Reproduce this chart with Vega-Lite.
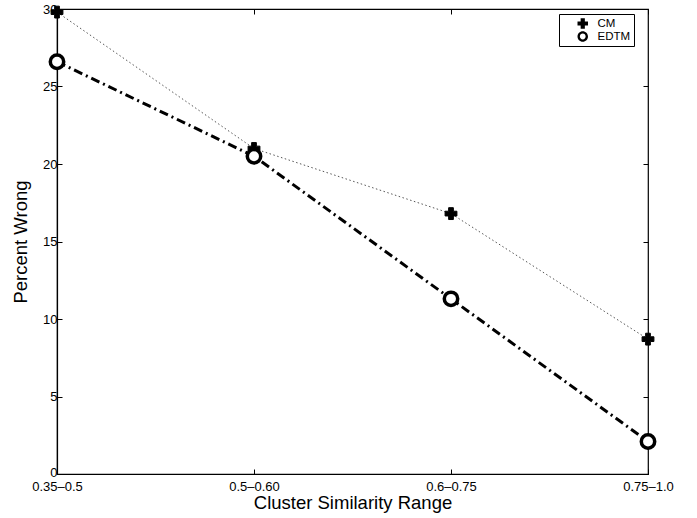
{
  "$schema": "https://vega.github.io/schema/vega-lite/v6.json",
  "width": 591,
  "height": 465,
  "autosize": "none",
  "padding": {"left": 57, "top": 9, "right": 49, "bottom": 44},
  "background": "white",
  "config": {
    "font": "Liberation Sans",
    "view": {"stroke": "black", "strokeWidth": 1.2},
    "axis": {
      "grid": false,
      "domainColor": "black",
      "domainWidth": 1.2,
      "tickColor": "black",
      "tickSize": -5,
      "labelColor": "black",
      "titleColor": "black",
      "labelFont": "Liberation Sans",
      "titleFont": "Liberation Sans",
      "labelFontSize": 13,
      "titleFontSize": 18.5,
      "titleFontWeight": "normal"
    },
    "legend": {
      "labelFont": "Liberation Sans",
      "labelFontSize": 11.5,
      "labelColor": "black"
    }
  },
  "data": {
    "values": [
      {"range": "0.35–0.5", "series": "CM", "pct": 29.8},
      {"range": "0.5–0.60", "series": "CM", "pct": 21.0},
      {"range": "0.6–0.75", "series": "CM", "pct": 16.8},
      {"range": "0.75–1.0", "series": "CM", "pct": 8.7},
      {"range": "0.35–0.5", "series": "EDTM", "pct": 26.6},
      {"range": "0.5–0.60", "series": "EDTM", "pct": 20.5},
      {"range": "0.6–0.75", "series": "EDTM", "pct": 11.3},
      {"range": "0.75–1.0", "series": "EDTM", "pct": 2.1}
    ]
  },
  "resolve": {"axis": {"x": "independent", "y": "independent"}},
  "layer": [
    {
      "transform": [{"filter": "datum.series === 'CM'"}],
      "mark": {"type": "line", "color": "#555", "strokeWidth": 1, "strokeDash": [1.5, 2.5], "clip": false},
      "encoding": {
        "x": {"field": "range", "type": "ordinal", "sort": ["0.35–0.5", "0.5–0.60", "0.6–0.75", "0.75–1.0"],
              "scale": {"type": "point", "padding": 0},
              "axis": {"title": "Cluster Similarity Range", "labelAngle": 0, "labelPadding": 11, "titlePadding": 0, "domain": true}},
        "y": {"field": "pct", "type": "quantitative", "scale": {"domain": [0, 30], "nice": false},
              "axis": {"title": "Percent Wrong", "values": [0, 5, 10, 15, 20, 25, 30], "labelPadding": 5, "titlePadding": 12,
                       "labelOffset": {"condition": {"test": "datum.value === 0", "value": -2}, "value": 0}}}
      }
    },
    {
      "transform": [{"filter": "datum.series === 'EDTM'"}],
      "mark": {"type": "line", "color": "black", "strokeWidth": 3, "strokeDash": [9, 4, 2, 4], "clip": false},
      "encoding": {
        "x": {"field": "range", "type": "ordinal", "sort": ["0.35–0.5", "0.5–0.60", "0.6–0.75", "0.75–1.0"],
              "scale": {"type": "point", "padding": 0}, "axis": null},
        "y": {"field": "pct", "type": "quantitative", "axis": null}
      }
    },
    {
      "mark": {"type": "point", "filled": true, "color": "black", "opacity": 0, "strokeWidth": 0, "size": 110, "clip": false},
      "encoding": {
        "x": {"field": "range", "type": "ordinal", "sort": ["0.35–0.5", "0.5–0.60", "0.6–0.75", "0.75–1.0"],
              "scale": {"type": "point", "padding": 0}, "axis": null},
        "y": {"field": "pct", "type": "quantitative", "axis": null},
        "shape": {"field": "series", "type": "nominal",
                  "scale": {"domain": ["CM", "EDTM"], "range": ["cross", "M-1,0A1,1,0,1,1,1,0A1,1,0,1,1,-1,0ZM-0.55,0A0.55,0.55,0,1,0,0.55,0A0.55,0.55,0,1,0,-0.55,0Z"]},
                  "legend": {"title": null, "orient": "none", "legendX": 502, "legendY": 5,
                             "strokeColor": "black", "fillColor": "white", "padding": 3,
                             "symbolOpacity": 1, "symbolFillColor": "black", "symbolStrokeWidth": 0, "symbolSize": 110,
                             "rowPadding": 0, "clipHeight": 13, "symbolOffset": 15, "labelOffset": 9}}
      }
    },
    {
      "transform": [{"filter": "datum.series === 'CM'"}],
      "mark": {"type": "point", "shape": "cross", "filled": true, "opacity": 1, "fill": "black", "stroke": "black", "strokeWidth": 1, "size": 140, "clip": false},
      "encoding": {
        "x": {"field": "range", "type": "ordinal", "sort": ["0.35–0.5", "0.5–0.60", "0.6–0.75", "0.75–1.0"],
              "scale": {"type": "point", "padding": 0}, "axis": null},
        "y": {"field": "pct", "type": "quantitative", "axis": null}
      }
    },
    {
      "transform": [{"filter": "datum.series === 'EDTM'"}],
      "mark": {"type": "point", "shape": "circle", "filled": true, "opacity": 1, "fill": "white", "stroke": "black", "strokeWidth": 3.5, "size": 180, "clip": false},
      "encoding": {
        "x": {"field": "range", "type": "ordinal", "sort": ["0.35–0.5", "0.5–0.60", "0.6–0.75", "0.75–1.0"],
              "scale": {"type": "point", "padding": 0},
              "axis": {"orient": "top", "labels": false, "title": null, "domain": false}},
        "y": {"field": "pct", "type": "quantitative",
              "axis": {"orient": "right", "labels": false, "title": null, "domain": false, "values": [0, 5, 10, 15, 20, 25, 30]}}
      }
    }
  ]
}
